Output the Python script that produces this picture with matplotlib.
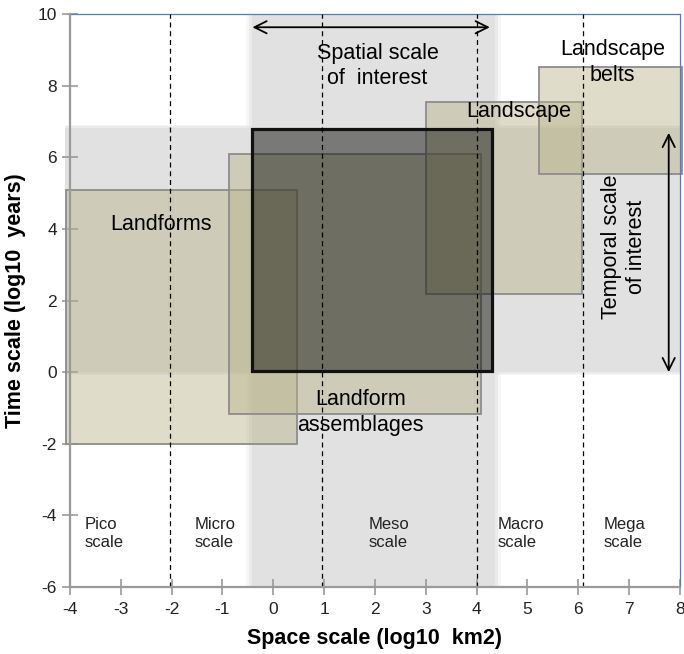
import matplotlib
matplotlib.use("Agg")
import matplotlib.pyplot as plt
from matplotlib.patches import Rectangle

plt.rcParams['font.family'] = ['Liberation Sans', 'DejaVu Sans']

# boxes: space range (log10 km2) and time range (log10 years)
box_names = ['Landforms', 'Landform assemblages', 'Landscape', 'Landscape belts']
box_x0 = [-4.07, -0.87, 3.01, 5.23]
box_x1 = [0.47, 4.08, 6.08, 8.05]
box_y0 = [-2.0, -1.17, 2.17, 5.52]
box_y1 = [5.08, 6.09, 7.53, 8.53]

# scale of interest (dark box + grey bands)
interest_x = [-0.41, 4.30]
interest_y = [0.03, 6.80]
band_x = [-0.41, 4.37]
band_y = [0.0, 6.82]

# scale boundaries
boundaries = [-2.03, 0.95, 4.0, 6.1]
scale_names = ['Pico\nscale', 'Micro\nscale', 'Meso\nscale', 'Macro\nscale', 'Mega\nscale']
scale_x = [-3.72, -1.55, 1.88, 4.42, 6.5]

xticks = [-4, -3, -2, -1, 0, 1, 2, 3, 4, 5, 6, 7, 8]
yticks = [-6, -4, -2, 0, 2, 4, 6, 8, 10]

fig = plt.figure(figsize=(6.84, 6.54), dpi=100)
ax = fig.add_axes([0.1023, 0.1024, 0.8917, 0.8762])
ax.set_xlim(-4, 8)
ax.set_ylim(-6, 10)

band_col = '#e1e1e1'
# grey bands with slightly soft edges
for grow, a in [(0.12, 0.25), (0.06, 0.5), (0.0, 1.0)]:
    ax.add_patch(Rectangle((band_x[0] - grow, -6), band_x[1] - band_x[0] + 2 * grow, 16,
                           facecolor=band_col, edgecolor='none', alpha=a, zorder=1))
    ax.add_patch(Rectangle((-4.1, band_y[0] - grow * 0.7), 12.1, band_y[1] - band_y[0] + 1.4 * grow,
                           facecolor=band_col, edgecolor='none', alpha=a, zorder=1, clip_on=False))

for i in range(len(box_names)):
    ax.add_patch(Rectangle((box_x0[i], box_y0[i]), box_x1[i] - box_x0[i], box_y1[i] - box_y0[i],
                           facecolor=(0.72, 0.70, 0.54, 0.45), edgecolor='#8c8c8c',
                           linewidth=1.3, zorder=2, clip_on=False))

ax.add_patch(Rectangle((interest_x[0], interest_y[0]), interest_x[1] - interest_x[0],
                       interest_y[1] - interest_y[0], facecolor=(0.02, 0.02, 0.0, 0.47),
                       edgecolor='#111111', linewidth=2.3, zorder=3))

for b in boundaries:
    ax.axvline(b, color='k', linestyle=(0, (4, 3)), linewidth=0.9, zorder=4)

# arrows
ax.annotate('', xy=(-0.41, 9.63), xytext=(4.26, 9.63),
            arrowprops=dict(arrowstyle='<->', color='k', lw=1.3, mutation_scale=22,
                            shrinkA=0, shrinkB=0), zorder=5)
ax.annotate('', xy=(7.78, 6.68), xytext=(7.78, 0.0),
            arrowprops=dict(arrowstyle='<->', color='k', lw=1.3, mutation_scale=22,
                            shrinkA=0, shrinkB=0), zorder=5)

fs = 15.5
ls = 1.3
ax.text(2.05, 8.55, 'Spatial scale\nof  interest', ha='center', va='center', fontsize=fs,
        linespacing=ls, zorder=6)
ax.text(-2.2, 4.12, 'Landforms', ha='center', va='center', fontsize=fs, zorder=6)
ax.text(1.72, -1.13, 'Landform\nassemblages', ha='center', va='center', fontsize=fs,
        linespacing=ls, zorder=6)
ax.text(4.83, 7.27, 'Landscape', ha='center', va='center', fontsize=fs, zorder=6)
ax.text(6.68, 8.64, 'Landscape\nbelts', ha='center', va='center', fontsize=fs,
        linespacing=ls, zorder=6)
ax.text(6.9, 3.5, 'Temporal scale\nof interest', ha='center', va='center', fontsize=fs,
        rotation=90, linespacing=ls, zorder=6)

for name, sx in zip(scale_names, scale_x):
    ax.text(sx, -4.5, name, ha='left', va='center', fontsize=12, color='#222222',
            linespacing=1.25, zorder=6)

ax.set_xticks(xticks)
ax.set_yticks(yticks)
ax.set_xticklabels([str(t) for t in xticks])
ax.set_yticklabels([str(t) for t in yticks])
ax.tick_params(axis='both', direction='inout', length=11, width=1.2, color='#9a9a9a',
               labelsize=12.5, labelcolor='#222222')
ax.tick_params(axis='y', pad=4)
ax.tick_params(axis='x', pad=5)

for s in ['left', 'bottom']:
    ax.spines[s].set_color('#9a9a9a')
    ax.spines[s].set_linewidth(1.6)
    ax.spines[s].set_zorder(7)
for s in ['top', 'right']:
    ax.spines[s].set_color('#4f7fbf')
    ax.spines[s].set_linewidth(0.9)

ax.set_xlabel('Space scale (log10  km2)', fontsize=15.5, fontweight='bold', labelpad=8)
ax.set_ylabel('Time scale (log10  years)', fontsize=15.5, fontweight='bold', labelpad=8)

fig.savefig('out.png', dpi=100)
